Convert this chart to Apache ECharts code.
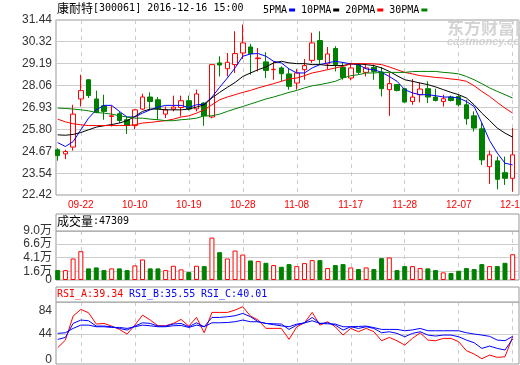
<!DOCTYPE html>
<html><head><meta charset="utf-8">
<script src="https://cdn.jsdelivr.net/npm/echarts@6/dist/echarts.min.js"></script>
<style>html,body{margin:0;padding:0;background:#fff}#c{width:520px;height:365px}</style>
</head><body><div id="c"></div>
<script>
// ---------- data ----------
const stockName = '康耐特';
const stockCode = '300061';
const stamp = '2016-12-16 15:00';
const dates = ['09-19','09-20','09-21','09-22','09-23','09-26','09-27','09-28','09-29','09-30',
 '10-10','10-11','10-12','10-13','10-14','10-17','10-18','10-19','10-20','10-21','10-24','10-25','10-26','10-27','10-28','10-31',
 '11-01','11-02','11-03','11-04','11-07','11-08','11-09','11-10','11-11','11-14','11-15','11-16','11-17','11-18','11-21','11-22','11-23','11-24','11-25','11-28','11-29','11-30',
 '12-01','12-02','12-05','12-06','12-07','12-08','12-09','12-12','12-13','12-14','12-15','12-16'];
const opens  = [24.75,24.54,24.89,27.37,28.36,27.37,27.02,26.47,26.61,26.30,26.00,26.85,27.47,27.33,26.59,26.85,26.93,27.28,26.86,27.16,26.44,29.23,28.93,29.14,29.74,30.05,29.45,29.28,28.88,28.97,28.66,28.19,28.88,29.36,30.38,29.18,29.97,29.00,28.45,29.14,28.74,29.00,28.76,27.85,28.11,27.90,27.24,27.59,27.90,27.47,27.24,27.47,27.50,27.07,26.50,25.83,23.88,24.18,23.57,23.28];
const closes = [24.45,24.66,26.59,27.80,27.55,26.67,26.73,26.50,26.26,26.00,26.81,27.47,27.24,26.86,26.81,26.95,27.28,26.85,27.63,26.50,29.14,29.12,29.26,29.71,30.26,29.71,29.48,28.84,28.90,28.67,28.02,28.71,29.09,30.26,29.40,29.69,29.14,28.48,28.97,28.74,28.97,28.79,27.90,28.16,27.81,27.21,27.47,27.88,27.47,27.29,27.38,27.29,27.07,26.35,25.87,24.23,24.49,23.23,23.28,24.49];
const lows   = [24.19,24.27,24.71,26.98,27.42,26.64,26.30,25.95,26.13,25.57,25.82,26.81,26.81,26.30,26.38,26.73,26.47,26.78,26.73,25.99,26.38,28.53,28.53,28.71,29.43,28.62,28.79,28.45,28.36,28.28,27.85,27.85,28.36,29.23,29.14,28.88,28.79,28.36,28.33,28.62,28.53,28.36,27.50,26.50,27.76,27.19,27.07,27.19,27.16,27.24,26.98,27.24,26.98,26.04,25.69,23.97,22.99,22.71,22.94,22.59];
const highs  = [24.83,24.75,27.07,28.62,28.40,27.80,27.59,27.02,26.73,26.47,26.85,27.64,27.71,27.47,26.98,27.54,27.54,27.54,27.85,27.20,29.14,29.57,29.74,30.86,31.21,30.21,30.00,29.78,29.31,29.05,28.92,28.92,29.43,30.78,30.86,30.05,30.09,29.23,29.23,29.23,29.14,29.14,29.02,28.71,28.11,27.90,28.40,28.22,28.28,27.90,27.59,27.54,27.59,27.33,26.73,26.13,24.71,24.40,24.40,25.87];
const ma5  = [25.12,24.92,25.17,25.78,26.38,26.81,27.04,27.04,26.73,26.44,26.44,26.64,26.81,26.95,27.04,27.04,27.04,26.93,27.07,27.10,27.47,27.97,28.45,28.97,29.57,29.69,29.71,29.57,29.31,29.23,28.92,28.71,28.71,28.97,29.14,29.23,29.31,29.25,29.18,29.14,28.92,28.88,28.74,28.53,28.28,27.85,27.68,27.59,27.59,27.54,27.47,27.47,27.42,27.24,26.98,26.13,25.23,24.58,24.06,23.97];
const ma10 = [25.52,25.50,25.54,25.64,25.78,25.92,25.99,26.05,26.13,26.25,26.47,26.73,26.85,26.85,26.81,26.81,26.81,26.85,26.95,27.07,27.42,27.71,27.97,28.22,28.53,28.71,28.88,29.02,29.23,29.31,29.23,29.19,29.19,29.14,29.14,29.10,29.09,29.09,29.18,29.18,29.14,29.09,28.97,28.79,28.57,28.36,28.28,28.19,28.11,27.99,27.85,27.71,27.59,27.42,27.07,26.64,26.26,25.87,25.61,25.40];
const ma20 = [26.33,26.19,26.09,26.04,26.00,26.00,26.00,26.00,26.00,26.00,26.04,26.13,26.16,26.21,26.25,26.33,26.44,26.50,26.64,26.81,27.07,27.33,27.47,27.59,27.71,27.81,27.94,28.05,28.16,28.28,28.40,28.45,28.57,28.71,28.79,28.88,28.97,29.05,29.18,29.19,29.19,29.18,29.14,29.02,28.88,28.74,28.66,28.57,28.53,28.48,28.45,28.40,28.36,28.28,28.05,27.76,27.50,27.19,26.90,26.64];
const ma30 = [26.90,26.88,26.85,26.81,26.76,26.67,26.64,26.59,26.50,26.44,26.38,26.38,26.33,26.30,26.25,26.25,26.30,26.33,26.38,26.50,26.50,26.59,26.73,26.86,26.98,27.11,27.24,27.37,27.47,27.59,27.71,27.81,27.94,28.05,28.11,28.19,28.28,28.45,28.57,28.62,28.71,28.71,28.74,28.74,28.74,28.74,28.78,28.79,28.79,28.79,28.74,28.71,28.66,28.53,28.36,28.16,27.94,27.76,27.59,27.42];
const volumes = [18200,18200,39500,52900,21300,23100,18200,21300,21300,18200,26800,37700,21300,21300,18200,26100,19500,14600,26100,25500,77900,51100,39500,54100,46800,35900,34700,31600,27400,24300,29200,25500,31000,36500,36500,21900,27400,29200,23100,20100,23100,20100,40100,41400,18200,25500,25500,21900,21300,18200,14000,12800,17000,21900,20100,29200,25500,25500,31600,47309];
const rsiA = [20.5,33.6,74.8,86.3,80.5,61.1,62.2,57.6,51.9,43.9,59.3,76.5,68.0,58.2,58.2,62.2,69.1,57.6,72.5,46.2,81.1,81.1,81.1,85.1,90.8,74.8,68.0,53.7,53.7,53.7,34.8,56.4,63.3,81.1,59.3,65.0,56.4,42.2,53.7,47.9,53.7,47.9,32.4,38.2,32.4,25.0,36.5,46.1,33.6,32.4,36.5,36.5,30.7,15.3,9.6,1.5,7.9,3.9,5.0,39.34];
const rsiB = [34.7,38.2,62.2,68.0,66.8,57.6,57.6,56.5,53.6,50.8,57.6,63.3,62.2,57.6,57.6,61.1,62.2,56.5,63.3,56.5,72.5,72.5,73.7,75.4,79.4,73.7,65.1,62.2,61.6,61.1,51.9,59.3,63.3,72.5,62.2,63.3,59.3,50.8,56.5,53.6,56.5,53.6,46.2,47.9,45.1,39.3,45.1,47.9,42.2,40.5,42.2,42.2,39.3,33.6,29.0,19.3,23.3,19.3,16.5,35.55];
const rsiC = [45.1,46.2,53.6,59.3,59.3,56.5,56.5,55.3,55.3,53.6,56.5,59.3,58.2,56.5,56.5,58.2,58.7,55.3,59.3,56.5,63.3,63.3,63.8,65.1,68.0,65.1,65.1,62.2,60.0,58.0,56.5,61.1,63.0,66.8,62.2,61.5,61.1,56.5,56.5,57.0,57.6,55.0,51.9,51.9,51.9,49.6,51.0,53.6,49.6,49.6,49.6,49.6,49.6,46.2,44.0,42.2,40.0,33.6,32.5,40.01];
const priceTicks = [22.42,23.54,24.67,25.80,26.93,28.06,29.19,30.32,31.44];
const volTicks = [0,16000,41000,66000,90000];
const volTickLabels = ['0','1.6万','4.1万','6.6万','9.0万'];
const rsiTicks = [0,44,84];
const rsiGrid = [44];
const maNames = ['5PMA','10PMA','20PMA','30PMA'];
const xLabelStart = 3, xLabelStep = 7;

// ---------- chart ----------
const UP = '#ff0000', DOWN = '#008000', FRAME = '#999999', GRIDC = '#cccccc';
const FL = 56, FW = 463, DL = 57.7, DW = 455;
const P = {top: 20, h: 175}, V = {top: 231, h: 49}, R = {top: 302, h: 62};
const showIdx = (i) => i >= xLabelStart && (i - xLabelStart) % xLabelStep === 0;
const numFont = 'Liberation Sans, Noto Sans CJK SC';
const monoFont = 'DejaVu Sans Mono, Liberation Mono, monospace';

const chart = echarts.init(document.getElementById('c'), null, {renderer: 'canvas', width: 520, height: 365});

function frameGrid(p) { return {left: FL, top: p.top, width: FW, height: p.h, show: true, borderColor: FRAME, borderWidth: 1, backgroundColor: 'transparent', containLabel: false, outerBoundsMode: 'none'}; }
function dataGrid(p) { return {left: DL, top: p.top, width: DW, height: p.h, show: false, containLabel: false, outerBoundsMode: 'none'}; }
function catAxis(gi, showLabel) {
  return {type: 'category', gridIndex: gi, data: dates, boundaryGap: false,
    axisLine: {show: false}, axisTick: {show: false},
    axisLabel: {show: showLabel, interval: (i) => showIdx(i), color: UP, fontSize: 10, fontFamily: numFont, margin: 5, hideOverlap: false},
    splitLine: {show: true, interval: (i) => showIdx(i), lineStyle: {color: GRIDC, type: [4, 4], width: 1}}};
}
function hiddenX(gi) { return {type: 'value', gridIndex: gi, min: 0, max: 1, show: false}; }
const labelStyle = {color: '#333', fontSize: 12, fontFamily: numFont, showMinLabel: true, showMaxLabel: true, hideOverlap: false};
function frameY(gi, min, max, labelVals, lineVals, fmt) {
  return {type: 'value', gridIndex: gi, min: min, max: max,
    axisLine: {show: false},
    axisTick: {show: false, customValues: lineVals},
    axisLabel: Object.assign({customValues: labelVals, formatter: fmt, margin: 4}, labelStyle),
    splitLine: {show: true, lineStyle: {color: GRIDC, width: 1}}};
}
function hiddenY(gi, min, max) { return {type: 'value', gridIndex: gi, min: min, max: max, show: false}; }

const candleData = dates.map((d, i) => [opens[i], closes[i], lows[i], highs[i]]);
const volData = volumes.map((v, i) => {
  const up = closes[i] >= opens[i];
  return {value: v, itemStyle: up ? {color: '#ffffff', borderColor: UP, borderWidth: 1} : {color: DOWN, borderColor: DOWN, borderWidth: 1}};
});
const maColors = ['#0000ff', '#000000', '#ff0000', '#008000'];
const maData = [ma5, ma10, ma20, ma30];
const fix2 = (v) => Number(v).toFixed(2);
const volFmt = (v) => volTickLabels[volTicks.indexOf(v)] || '';

const option = {
  animation: false,
  backgroundColor: '#ffffff',
  grid: [frameGrid(P), dataGrid(P), frameGrid(V), dataGrid(V), frameGrid(R), dataGrid(R)],
  xAxis: [hiddenX(0), catAxis(1, true), hiddenX(2), catAxis(3, false), hiddenX(4), catAxis(5, false)],
  yAxis: [
    frameY(0, priceTicks[0], priceTicks[priceTicks.length - 1], priceTicks, priceTicks, (v) => fix2(v)),
    hiddenY(1, priceTicks[0], priceTicks[priceTicks.length - 1]),
    frameY(2, 0, volTicks[volTicks.length - 1], volTicks.slice(1), volTicks.slice(1, -1), volFmt),
    // data axis of the volume panel only carries the "0" label (kept separate so it is not hidden by overlap)
    {type: 'value', gridIndex: 3, min: 0, max: volTicks[volTicks.length - 1],
      axisLine: {show: false}, axisTick: {show: false}, splitLine: {show: false},
      axisLabel: Object.assign({customValues: volTicks.slice(0, 1), formatter: volFmt, margin: 5.7}, labelStyle)},
    frameY(4, -7.5, 99, rsiTicks, rsiGrid, (v) => String(v)),
    hiddenY(5, -7.5, 99)
  ],
  legend: {
    left: 263, top: 5, padding: 0, itemWidth: 6, itemHeight: 3, itemGap: 6, align: 'right', icon: 'rect',
    selectedMode: false, data: maNames,
    textStyle: {fontFamily: monoFont, fontSize: 10, color: '#000', padding: [0, -3, 0, 0]}
  },
  series: [
    {type: 'candlestick', name: 'K', xAxisIndex: 1, yAxisIndex: 1, data: candleData, barWidth: 5, clip: false, z: 2,
     itemStyle: {color: '#ffffff', color0: DOWN, borderColor: UP, borderColor0: DOWN, borderWidth: 1}},
    ...maNames.map((n, k) => ({type: 'line', name: n, xAxisIndex: 1, yAxisIndex: 1, data: maData[k], showSymbol: false, symbol: 'none', z: 3,
      color: maColors[k], lineStyle: {color: maColors[k], width: 1}})),
    {type: 'bar', name: 'VOL', xAxisIndex: 3, yAxisIndex: 3, data: volData, barWidth: 5, clip: false},
    {type: 'line', name: 'RSI_A', xAxisIndex: 5, yAxisIndex: 5, data: rsiA, showSymbol: false, symbol: 'none', lineStyle: {color: '#ff0000', width: 1}},
    {type: 'line', name: 'RSI_B', xAxisIndex: 5, yAxisIndex: 5, data: rsiB, showSymbol: false, symbol: 'none', lineStyle: {color: '#0000ff', width: 1}},
    {type: 'line', name: 'RSI_C', xAxisIndex: 5, yAxisIndex: 5, data: rsiC, showSymbol: false, symbol: 'none', lineStyle: {color: '#0000ff', width: 1}}
  ],
  graphic: [
    {type: 'text', left: 57, top: 2, z: 10, style: {
      text: '{cn|' + stockName + '}{m|[' + stockCode + '] ' + stamp + '}',
      rich: {cn: {font: '12px "Noto Sans CJK SC"', fill: '#000'}, m: {font: '10px "DejaVu Sans Mono"', fill: '#000'}}}},
    {type: 'text', left: 447, top: 19, z: 0, silent: true, style: {text: '东方财富网', font: 'bold 17px "Noto Sans CJK SC"', fill: '#d4d4d4'}},
    {type: 'text', left: 447, top: 36, z: 0, silent: true, style: {text: 'eastmoney.com', font: 'italic bold 11px "Liberation Sans"', fill: '#d4d4d4'}},
    {type: 'rect', z: 5, shape: {x: FL, y: 214, width: FW, height: 17}, style: {fill: '#fff', stroke: FRAME, lineWidth: 1}},
    {type: 'text', left: 57, top: 215, z: 6, style: {
      text: '{cn|成交量}{m|:' + volumes[volumes.length - 1] + '}',
      rich: {cn: {font: '12px "Noto Sans CJK SC"', fill: '#000'}, m: {font: '10px "DejaVu Sans Mono"', fill: '#000'}}}},
    {type: 'rect', z: 5, shape: {x: FL, y: 287, width: FW, height: 15}, style: {fill: '#fff', stroke: FRAME, lineWidth: 1}},
    {type: 'text', left: 57, top: 289, z: 6, style: {text: 'RSI_A:' + fix2(rsiA[rsiA.length - 1]), font: '10px "DejaVu Sans Mono"', fill: '#ff0000'}},
    {type: 'text', left: 129, top: 289, z: 6, style: {text: 'RSI_B:' + fix2(rsiB[rsiB.length - 1]), font: '10px "DejaVu Sans Mono"', fill: '#0000ff'}},
    {type: 'text', left: 201, top: 289, z: 6, style: {text: 'RSI_C:' + fix2(rsiC[rsiC.length - 1]), font: '10px "DejaVu Sans Mono"', fill: '#0000ff'}}
  ]
};
chart.setOption(option);
</script></body></html>
